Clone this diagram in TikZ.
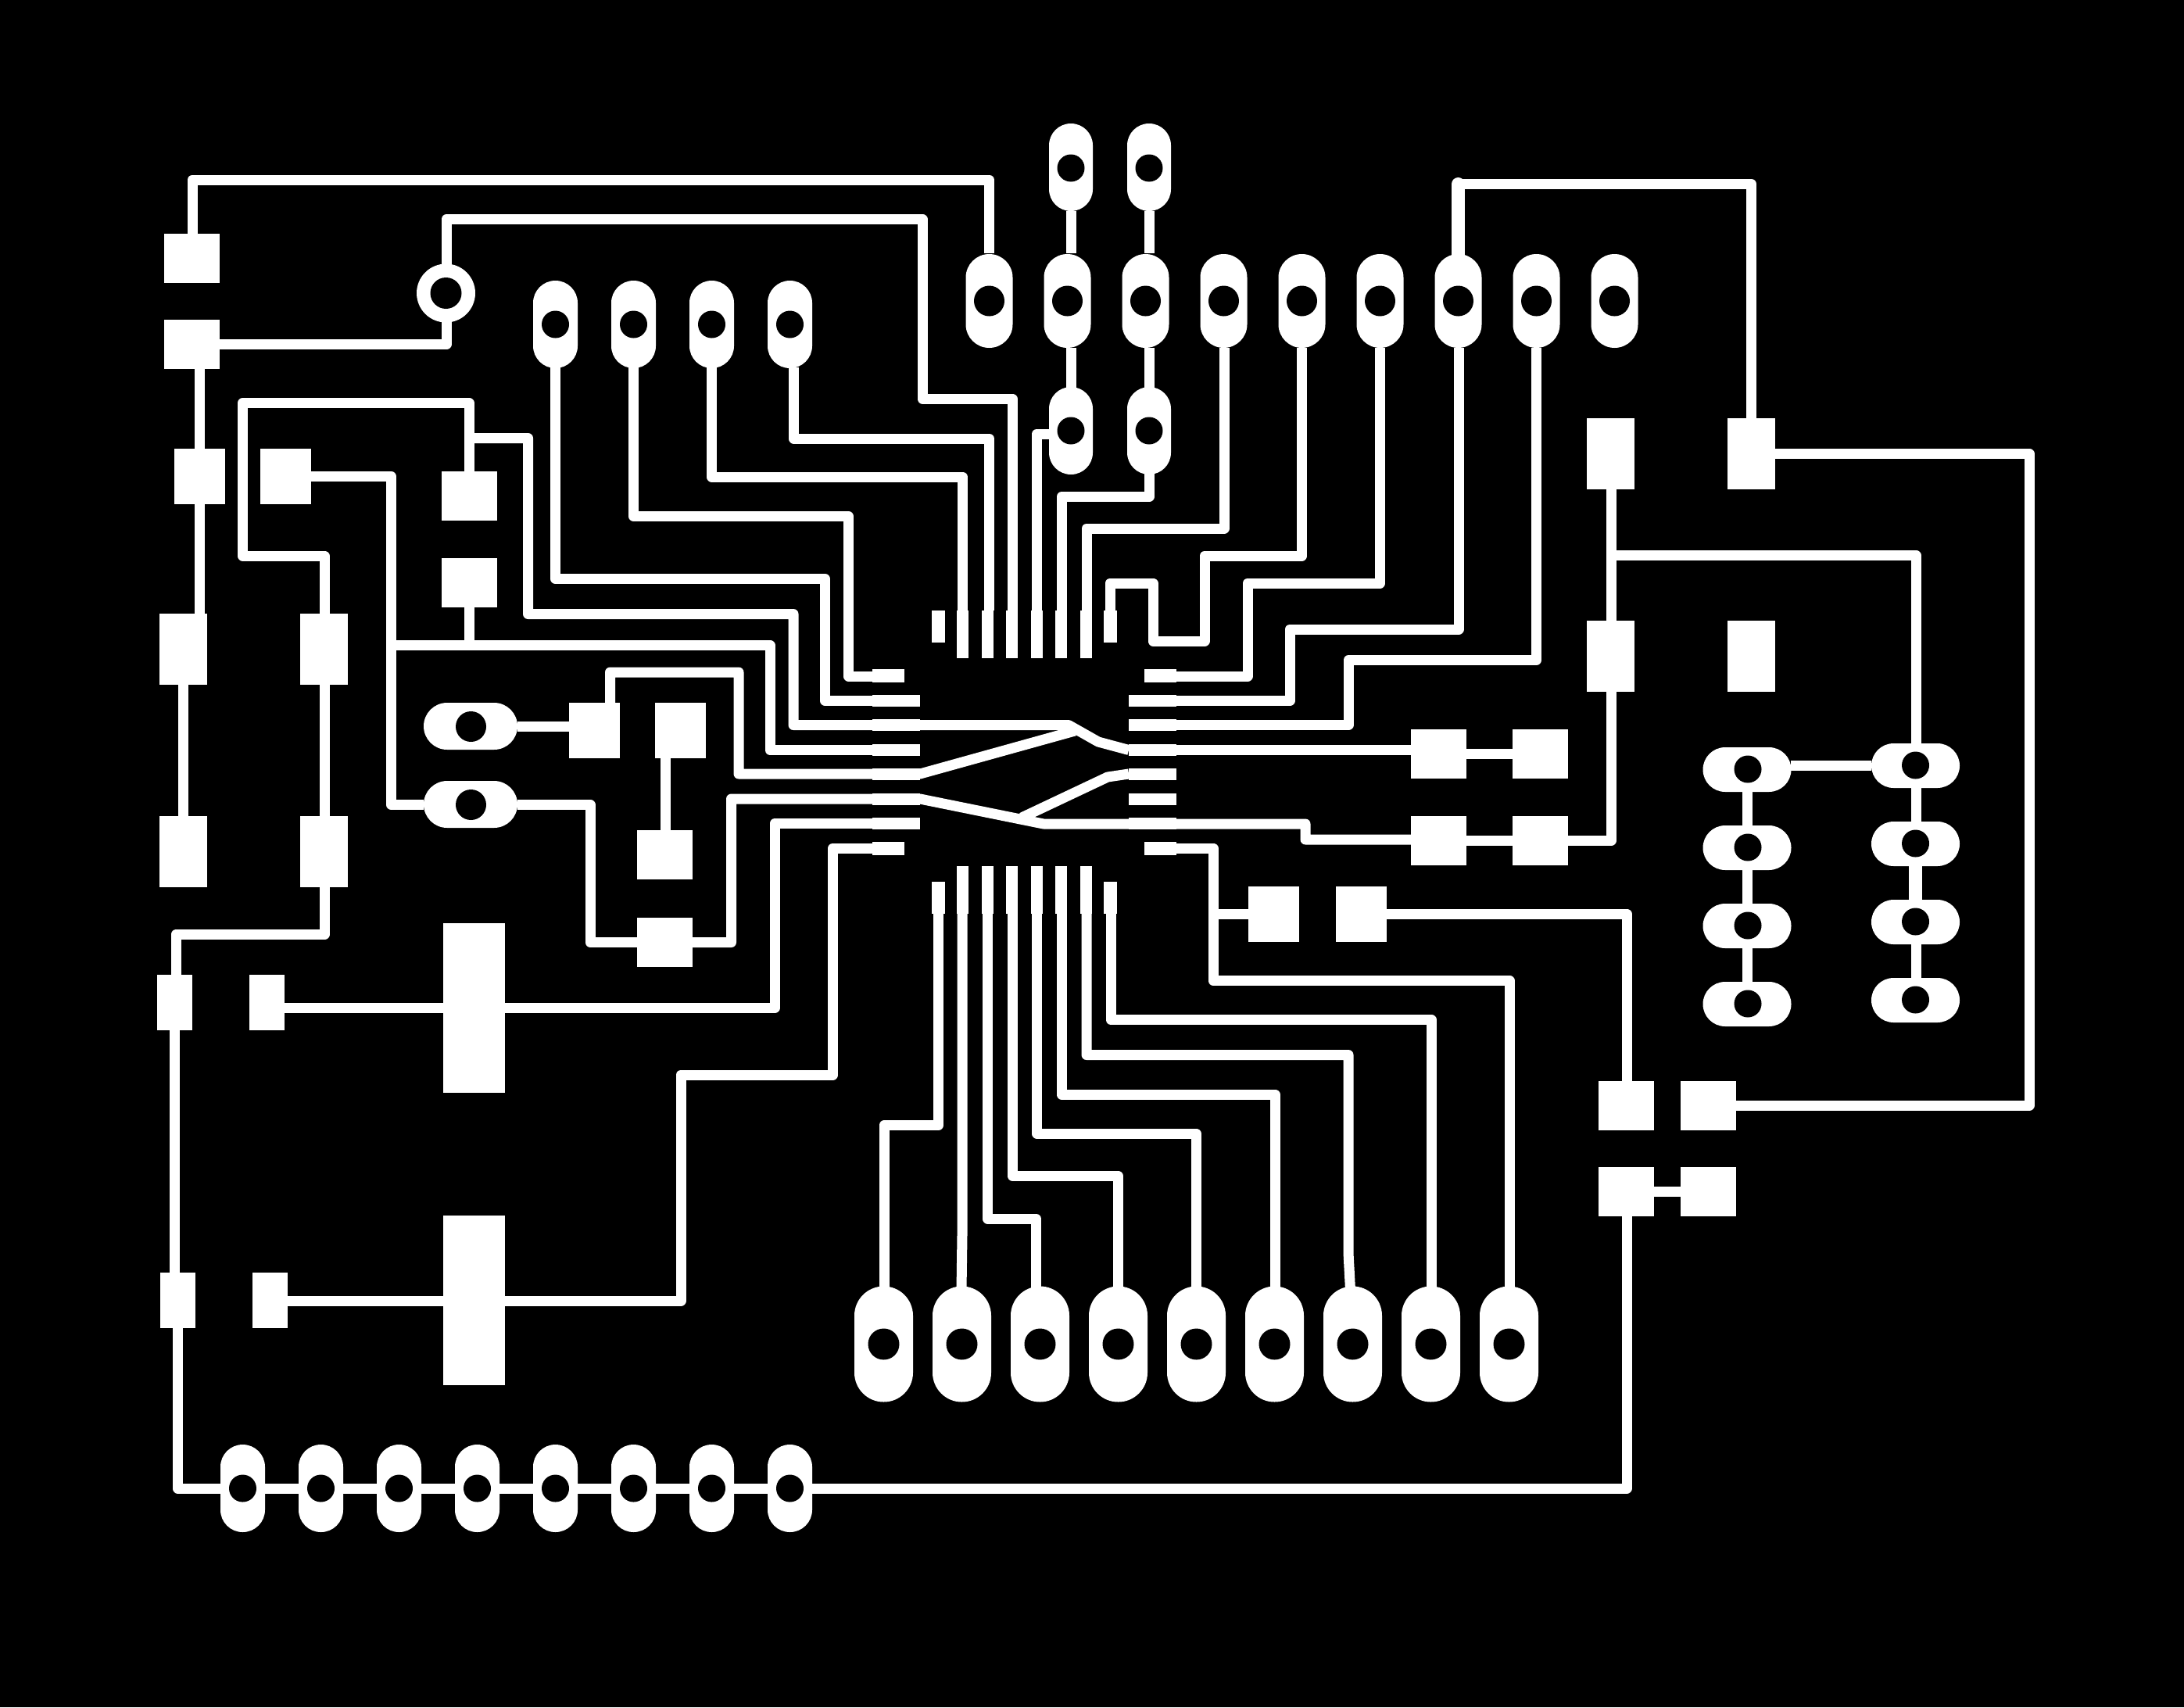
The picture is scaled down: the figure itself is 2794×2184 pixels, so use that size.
\documentclass[tikz,border=0pt]{standalone}
\tikzset{
  trace/.style={draw=white,line width=13pt,line join=round,line cap=butt},
  fattrace/.style={draw=white,line width=17pt,line join=round,line cap=butt},
  padfill/.style={fill=white},
  holefill/.style={fill=black}
}
\newcommand{\mypad}[4]{\fill[padfill] (#1,#2) rectangle (#3,#4);}
% centre x, centre y, half width, half height, hole radius
\newcommand{\myslot}[5]{%
  \pgfmathsetmacro{\myr}{min(#3,#4)}%
  \fill[padfill,rounded corners=\myr pt] ({#1-#3},{#2-#4}) rectangle ({#1+#3},{#2+#4});
}
\newcommand{\myhole}[3]{\fill[holefill] (#1,#2) circle[radius=#3pt];}
\begin{document}
\begin{tikzpicture}[x=1pt,y=-1pt]
\useasboundingbox (0,0) rectangle (2794,2184);
\fill[black] (0,0) rectangle (2794,2184);

% --- traces: upper left
\draw[trace] (246,299) -- (246,230) -- (1265.5,230) -- (1265.5,324);
\draw[trace] (571,338) -- (571,280.5) -- (1180,280.5) -- (1180,510) -- (1295,510) -- (1295,781);
\draw[trace] (281,440.5) -- (571,440.5) -- (571,412);
\draw[trace] (255.5,472) -- (255.5,785);
\draw[trace] (234.5,876) -- (234.5,1044);
\draw[trace] (415.5,876) -- (415.5,1044);
\draw[trace] (415.5,1135) -- (415.5,1195) -- (225.5,1195) -- (225.5,1247);
\draw[trace] (223.5,1318) -- (223.5,1628);
\draw[trace] (227.5,1699) -- (227.5,1904) -- (2081,1904) -- (2081,1556);
\draw[trace] (398,609.5) -- (500.5,609.5) -- (500.5,1029.5) -- (542,1029.5);
\draw[trace] (500.5,825.5) -- (985,825.5) -- (985,959.5) -- (1116,959.5);
\draw[trace] (600,714) -- (600,825.5);
\draw[trace] (600,603) -- (600,515.5) -- (310.5,515.5) -- (310.5,711) -- (415,711) -- (415,785);
\draw[trace] (600,560.5) -- (675.5,560.5) -- (675.5,785.5) -- (1015,785.5) -- (1015,927.5) -- (1367,927.5) -- (1405,949) -- (1444,959.5);
\draw[trace] (662,929.5) -- (728,929.5);
\draw[trace] (780.5,899) -- (780.5,860) -- (945,860) -- (945,990) -- (1177,990) -- (1375,935);
\draw[trace] (851,970) -- (851,1062);
\draw[trace] (662,1029.5) -- (755,1029.5) -- (755,1205.5) -- (815,1205.5);
\draw[trace] (886,1205.5) -- (935.5,1205.5) -- (935.5,1022) -- (1177,1022) -- (1335,1054) -- (1670,1054) -- (1670,1074) -- (1805,1074);
\draw[trace] (364,1289.5) -- (567,1289.5);
\draw[trace] (646,1289.5) -- (991,1289.5) -- (991,1053.5) -- (1116,1053.5);
\draw[trace] (368,1664) -- (567,1664);
\draw[trace] (646,1664) -- (871,1664) -- (871,1375) -- (1065.5,1375) -- (1065.5,1085) -- (1116,1085);
\draw[trace] (1444,990) -- (1417,994) -- (1307,1046);

% --- traces: slots to the top of the chip
\draw[trace] (710.5,470) -- (710.5,740.5) -- (1055.5,740.5) -- (1055.5,896.5) -- (1116,896.5);
\draw[trace] (810.5,470) -- (810.5,660.5) -- (1085.5,660.5) -- (1085.5,865) -- (1116,865);
\draw[trace] (910.5,470) -- (910.5,610) -- (1231.5,610) -- (1231.5,781);
\draw[trace] (1015.5,470) -- (1015.5,561) -- (1265.5,561) -- (1265.5,781);
\draw[trace] (1342,555) -- (1326.5,555) -- (1326.5,781);
\draw[trace] (1470,606) -- (1470,635.5) -- (1358,635.5) -- (1358,781);
\draw[trace] (1566,445) -- (1566,676) -- (1390,676) -- (1390,781);
\draw[trace] (1665.5,445) -- (1665.5,711) -- (1541,711) -- (1541,820) -- (1475,820) -- (1475,746) -- (1420,746) -- (1420,781);
\draw[trace] (1765.5,445) -- (1765.5,746) -- (1596,746) -- (1596,865) -- (1505,865);
\draw[trace] (1866,445) -- (1866,805) -- (1650,805) -- (1650,896.5) -- (1505,896.5);
\draw[trace] (1965.5,445) -- (1965.5,844.5) -- (1725,844.5) -- (1725,927.5) -- (1505,927.5);
\draw[trace] (1505,959.5) -- (1805,959.5);
\draw[trace] (1370.5,270) -- (1370.5,324);
\draw[trace] (1470.5,270) -- (1470.5,324);
\draw[trace] (1370.5,445) -- (1370.5,496);
\draw[trace] (1470.5,445) -- (1470.5,496);

% --- traces: right side
\draw[fattrace,line cap=round] (1865.5,330) -- (1865.5,235.5);
\draw[trace] (1865.5,235.5) -- (2240.5,235.5) -- (2240.5,535);
\draw[trace] (2271,580.5) -- (2596,580.5) -- (2596,1414) -- (2221,1414);
\draw[trace] (2061,625) -- (2061,794);
\draw[trace] (2061,710.5) -- (2451,710.5) -- (2451,951);
\draw[trace] (2061,885) -- (2061,1075.5) -- (2006,1075.5);
\draw[trace] (1876,964) -- (1935,964);
\draw[trace] (1876,1075) -- (1935,1075);
\draw[trace] (2291,979) -- (2394,979);
\draw[trace] (2235.5,1013) -- (2235.5,1056);
\draw[trace] (2235.5,1113) -- (2235.5,1156);
\draw[trace] (2235.5,1213) -- (2235.5,1256);
\draw[trace] (2451,1008) -- (2451,1051);
\draw[fattrace] (2450.5,1108) -- (2450.5,1151);
\draw[trace] (2451,1208) -- (2451,1251);
\draw[trace] (2116,1524.5) -- (2150,1524.5);

% --- traces: chip bottom to the large slots
\draw[trace] (1200.5,1169) -- (1200.5,1439.5) -- (1131,1439.5) -- (1131,1650);
\draw[trace] (1231,1169) -- (1231,1580) -- (1230,1650);
\draw[trace] (1263.5,1169) -- (1263.5,1559) -- (1325.5,1559) -- (1325.5,1650);
\draw[trace] (1295,1169) -- (1295,1504) -- (1430,1504) -- (1430,1650);
\draw[trace] (1326.5,1169) -- (1326.5,1450) -- (1530,1450) -- (1530,1650);
\draw[trace] (1358,1169) -- (1358,1400) -- (1631,1400) -- (1631,1650);
\draw[trace] (1390,1169) -- (1390,1349.5) -- (1725,1349.5) -- (1725,1603) -- (1727.5,1650);
\draw[trace] (1421,1169) -- (1421,1304.5) -- (1831,1304.5) -- (1831,1650);
\draw[trace] (1505,1085) -- (1552,1085) -- (1552,1254.5) -- (1931,1254.5) -- (1931,1650);
\draw[trace] (1552,1169) -- (1597,1169);
\draw[trace] (1774,1169) -- (2081,1169) -- (2081,1383);

% --- rectangular pads
\mypad{210}{299}{281}{362}
\mypad{210}{409}{281}{472}
\mypad{223}{574}{288}{645}
\mypad{333}{574}{398}{645}
\mypad{565}{603}{636}{666}
\mypad{565}{714}{636}{777}
\mypad{204}{785}{265}{876}
\mypad{384}{785}{445}{876}
\mypad{204}{1044}{265}{1135}
\mypad{384}{1044}{445}{1135}
\mypad{728}{899}{793}{970}
\mypad{838}{899}{903}{970}
\mypad{815}{1062}{886}{1125}
\mypad{815}{1174}{886}{1237}
\mypad{201}{1247}{246}{1318}
\mypad{319}{1247}{364}{1318}
\mypad{567}{1181}{646}{1398}
\mypad{567}{1555}{646}{1772}
\mypad{205}{1628}{250}{1699}
\mypad{323}{1628}{368}{1699}
\mypad{2030}{535}{2091}{625.5}
\mypad{2210}{535}{2271}{625.5}
\mypad{2030}{794}{2091}{885}
\mypad{2210}{794}{2271}{885}
\mypad{1805}{933}{1876}{996}
\mypad{1935}{933}{2006}{996}
\mypad{1805}{1044}{1876}{1107}
\mypad{1935}{1044}{2006}{1107}
\mypad{1597}{1134}{1662}{1205}
\mypad{1709}{1134}{1774}{1205}
\mypad{2045}{1383}{2116}{1446}
\mypad{2150}{1383}{2221}{1446}
\mypad{2045}{1493}{2116}{1556}
\mypad{2150}{1493}{2221}{1556}

% --- chip pads, left and right
\mypad{1116}{856}{1157}{873}
\mypad{1116}{889}{1177}{904}
\mypad{1116}{920}{1177}{935}
\mypad{1116}{952}{1177}{967}
\mypad{1116}{983}{1177}{998}
\mypad{1116}{1015}{1177}{1030}
\mypad{1116}{1046}{1177}{1061}
\mypad{1116}{1077}{1157}{1094}
\mypad{1464}{856}{1505}{873}
\mypad{1444}{889}{1505}{904}
\mypad{1444}{920}{1505}{935}
\mypad{1444}{952}{1505}{967}
\mypad{1444}{983}{1505}{998}
\mypad{1444}{1015}{1505}{1030}
\mypad{1444}{1046}{1505}{1061}
\mypad{1464}{1077}{1505}{1094}
% --- chip pads, top and bottom
\mypad{1192}{781}{1209}{822}
\mypad{1412}{781}{1429}{822}
\mypad{1192}{1128}{1209}{1169}
\mypad{1412}{1128}{1429}{1169}
\foreach \a/\b in {1224/1239,1256/1271,1287/1302,1319/1334,1350/1365,1382/1397}{
  \mypad{\a}{781}{\b}{842}
  \mypad{\a}{1108}{\b}{1169}
}

% --- slots
\myslot{570.5}{375}{37.5}{37.5}{20}
\myhole{570.5}{375}{20}
\foreach \x in {710,810,910,1010}{
  \myslot{\x.5}{415}{28.5}{56}{17.5}
  \myhole{\x.5}{415}{17.5}
}
\foreach \x in {1370,1470}{
  \myslot{\x}{214}{28}{56}{17.5}
  \myhole{\x}{215}{17.5}
  \myslot{\x}{551}{28}{56}{17.5}
  \myhole{\x}{551}{17.5}
}
\foreach \x in {1265,1365,1465,1565,1665,1765,1865,1965,2065}{
  \myslot{\x.5}{385}{30}{60}{19.5}
  \myhole{\x.5}{385}{19.5}
}
\foreach \y in {929,1029}{
  \myslot{602}{\y}{60}{30}{19.5}
  \myhole{602.5}{\y.5}{19.5}
}
\foreach \y in {984,1084,1184,1284}{
  \myslot{2235}{\y.5}{56.5}{28.5}{17.5}
  \myhole{2236}{\y}{17.5}
}
\foreach \y in {979,1079,1179,1279}{
  \myslot{2450.5}{\y.5}{56.5}{28.5}{17.5}
  \myhole{2450.5}{\y}{17.5}
}
\foreach \x in {1130,1230,1330,1430,1530,1630,1730,1830,1930}{
  \myslot{\x.5}{1719.5}{37.5}{74}{20}
  \myhole{\x.5}{1719.5}{20}
}
\foreach \x in {310,410,510,610,710,810,910,1010}{
  \myslot{\x.5}{1904}{28.5}{56}{17.5}
  \myhole{\x.5}{1904}{17.5}
}
\end{tikzpicture}
\end{document}
